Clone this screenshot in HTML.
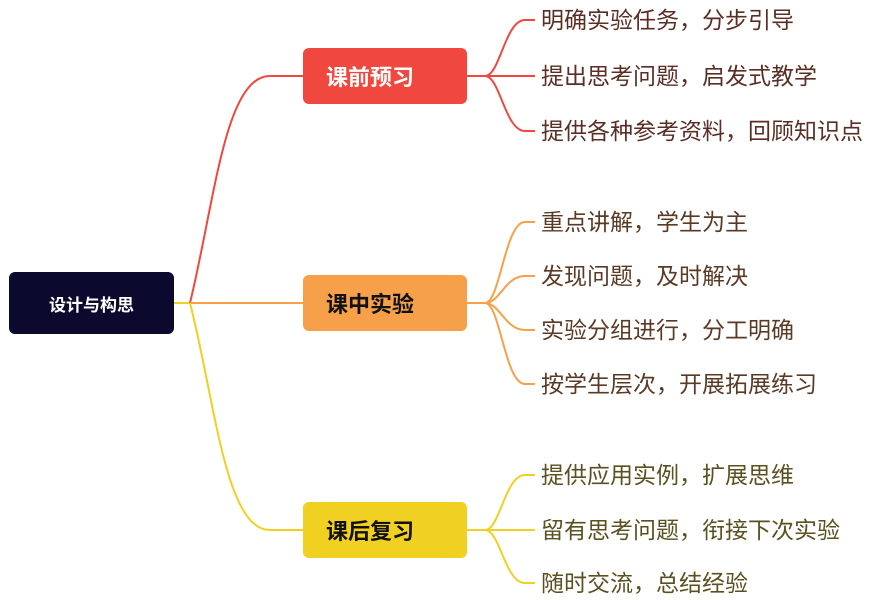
<!DOCTYPE html>
<html><head><meta charset="utf-8"><style>
body{margin:0;width:869px;height:600px;background:#fff;position:relative;overflow:hidden;font-family:"Liberation Sans","Noto Sans CJK SC",sans-serif}
.b{position:absolute;border-radius:6px;display:flex;align-items:center;font-weight:bold}
.t{position:absolute;font-size:23px;line-height:26px;white-space:nowrap}
</style></head><body>
<svg width="869" height="600" style="position:absolute;left:0;top:0" fill="none" stroke-width="2">
<path d="M174 303 H190" stroke="#f0d020"/>
<path d="M190 303 C215 200,225 76,270 76 H303" stroke="#f0483e"/>
<path d="M190 303 H303" stroke="#f7a04a"/>
<path d="M190 303 C215 400,225 530,270 530 H303" stroke="#f0d020"/>
<g stroke="#f0483e"><path d="M467 76 H485 C500 76,505 20,525 20 H535"/><path d="M485 76 H535"/><path d="M485 76 C500 76,505 131,525 131 H535"/></g>
<g stroke="#f7a04a"><path d="M467 303 H485 C500 303,505 222,525 222 H535"/><path d="M485 303 C500 303,505 276,525 276 H535"/><path d="M485 303 C500 303,505 330,525 330 H535"/><path d="M485 303 C500 303,505 384,525 384 H535"/></g>
<g stroke="#f0d020"><path d="M467 530 H485 C500 530,505 475,525 475 H535"/><path d="M485 530 H535"/><path d="M485 530 C500 530,505 583,525 583 H535"/></g>
</svg>
<div class="b" style="left:9px;top:272px;width:165px;height:62px;background:#0b0a2e;color:#fff;font-size:17px;justify-content:center">设计与构思</div>
<div class="b" style="left:303px;top:48px;width:141px;padding-left:23px;height:56px;background:#f0483e;color:#fff;font-size:22px">课前预习</div>
<div class="b" style="left:303px;top:275px;width:141px;padding-left:23px;height:56px;background:#f7a04a;color:#111;font-size:22px">课中实验</div>
<div class="b" style="left:303px;top:502px;width:141px;padding-left:23px;height:56px;background:#f0d020;color:#111;font-size:22px">课后复习</div>
<div style="color:#5a2e25">
<div class="t" style="left:541px;top:7px">明确实验任务，分步引导</div>
<div class="t" style="left:541px;top:63px">提出思考问题，启发式教学</div>
<div class="t" style="left:541px;top:118px">提供各种参考资料，回顾知识点</div>
</div>
<div style="color:#5a3a25">
<div class="t" style="left:541px;top:209px">重点讲解，学生为主</div>
<div class="t" style="left:541px;top:263px">发现问题，及时解决</div>
<div class="t" style="left:541px;top:317px">实验分组进行，分工明确</div>
<div class="t" style="left:541px;top:371px">按学生层次，开展拓展练习</div>
</div>
<div style="color:#5a5020">
<div class="t" style="left:541px;top:462px">提供应用实例，扩展思维</div>
<div class="t" style="left:541px;top:517px">留有思考问题，衔接下次实验</div>
<div class="t" style="left:541px;top:570px">随时交流，总结经验</div>
</div>
</body></html>
